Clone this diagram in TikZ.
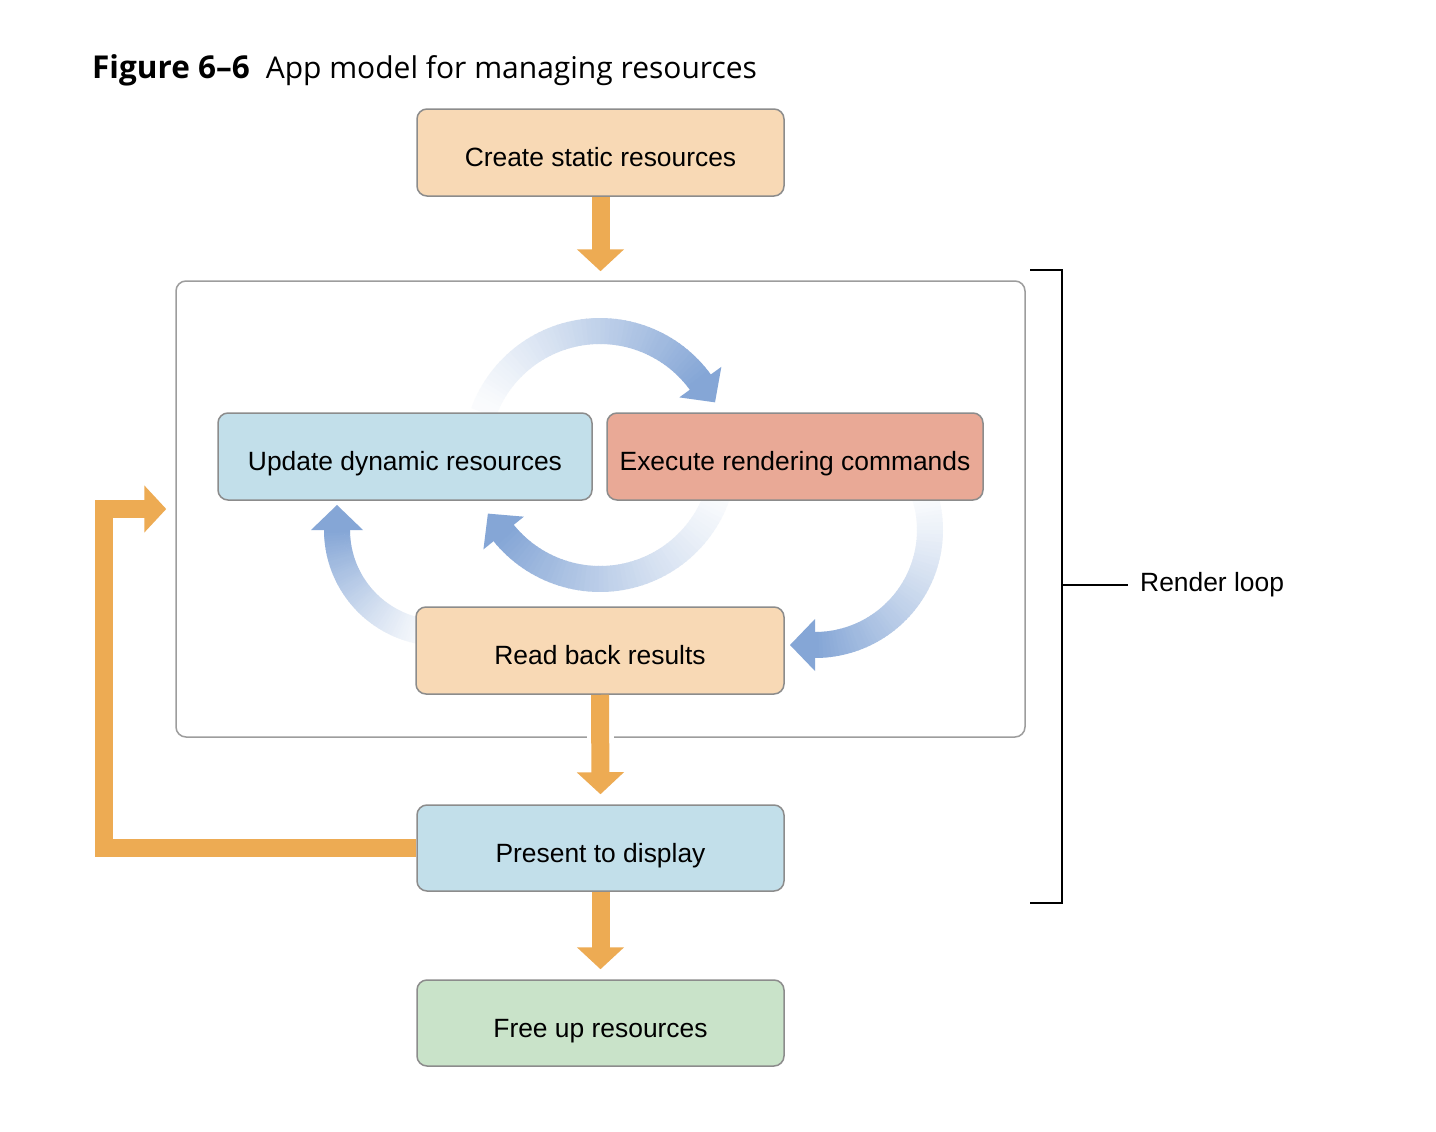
\documentclass[tikz,border=0pt]{standalone}
\usepackage{fontspec}
\setmainfont{Liberation Sans}
\newfontfamily\titlefont{Open Sans}
\usetikzlibrary{arrows.meta}
\definecolor{peach}{HTML}{F8D9B5}
\definecolor{lightblue}{HTML}{C2DFEA}
\definecolor{salmon}{HTML}{E9A996}
\definecolor{palegreen}{HTML}{C9E3C9}
\definecolor{orangearrow}{HTML}{EDAB53}
\definecolor{arrowblue}{HTML}{85A6D6}
\definecolor{bordergray}{HTML}{8C8C8C}
\newcommand{\gradarc}[6]{%
  \begin{scope}[shift={(#1,#2)}]
    \pgfmathsetmacro{\rin}{#3-13}
    \pgfmathsetmacro{\rout}{#3+13}
    \pgfmathsetmacro{\hin}{#3-26}
    \pgfmathsetmacro{\hout}{#3+26}
    \foreach \i in {0,...,59}{%
      \pgfmathsetmacro{\ta}{#4+(#5-#4)*\i/60}%
      \pgfmathsetmacro{\tb}{#4+(#5-#4)*(\i+1.2)/60}%
      \pgfmathtruncatemacro{\p}{4+96*(\i/59)^1.2}%
      \fill[arrowblue!\p!white] (\ta:\rin) -- (\tb:\rin) -- (\tb:\rout) -- (\ta:\rout) -- cycle;
    }
    \pgfmathsetmacro{\tdir}{#5+#6*90}
    \fill[arrowblue] (#5:\hin) -- (#5:\hout) -- ([shift={(#5:#3)}]\tdir:25) -- cycle;
  \end{scope}}
\begin{document}
\begin{tikzpicture}[x=1pt,y=-1pt,
  box/.style={draw=bordergray, line width=1.5pt, rounded corners=10pt,
    minimum height=87pt, inner sep=0pt, text=black,
    text height=28pt, text depth=0pt,
    font=\fontsize{26.4pt}{30pt}\selectfont},
  flow/.style={draw=orangearrow, line width=18pt,
    -{Triangle[width=46pt,length=22pt]}},
  label/.style={font=\fontsize{26.4pt}{30pt}\selectfont, inner sep=0pt}]
\useasboundingbox[fill=white] (0,0) rectangle (1436,1132);

% title
\node[anchor=base west, inner sep=0pt, font=\titlefont\fontsize{30pt}{36pt}\selectfont] (title) at (92,78)
  {{\fontsize{31.5pt}{36pt}\selectfont\bfseries Figure 6–6}\hspace{16pt}App model for managing resources};

% render loop frame
\node[draw=bordergray!85, line width=1.5pt, rounded corners=10pt, fill=white,
  minimum width=849pt, minimum height=456pt, inner sep=0pt] (loop) at (600.5,509) {};

% curved gradient arrows
\gradarc{600}{455}{124}{-160}{-36}{1}
\gradarc{600}{455}{124}{15}{141}{1}
\gradarc{440}{530}{103}{95}{180}{1}
\gradarc{815}{530}{115}{-20}{90}{1}

% boxes
\node[box, fill=peach, minimum width=367pt] (create) at (600.5,152.5) {Create static resources};
\node[box, fill=lightblue, minimum width=374pt] (update) at (405,456.5) {Update dynamic resources};
\node[box, fill=salmon, minimum width=376pt] (execute) at (795,456.5) {Execute rendering commands};
\node[box, fill=peach, minimum width=368pt] (readback) at (600,650.5) {Read back results};
\node[box, fill=lightblue, minimum width=367pt, minimum height=86pt] (present) at (600.5,848) {Present to display};
\node[box, fill=palegreen, minimum width=367pt, minimum height=86pt] (free) at (600.5,1023) {Free up resources};

% orange flow arrows
\draw[flow] (create.south) -- ([yshift=9pt]loop.north);
\fill[white] (587,731) rectangle (614,743);
\draw[flow] (readback.south) -- ([yshift=10pt]present.north);
\draw[flow] (present.south) -- ([yshift=10pt]free.north);
\draw[flow] (present.west) -- ++(-312,0) |- ([xshift=-9pt]loop.west);

% render loop bracket
\node[label, anchor=west] (rl) at (1140,585) {Render loop};
\coordinate (btop) at (1030,270);
\coordinate (bvert) at (1062,270);
\coordinate (bbot) at (1030,903);
\draw[black, line width=2.8pt] (btop) -- (bvert) -- ++(0,633) -- (bbot);
\draw[black, line width=2.8pt] (bvert |- rl.west) -- ([xshift=-12pt]rl.west);
\end{tikzpicture}
\end{document}
